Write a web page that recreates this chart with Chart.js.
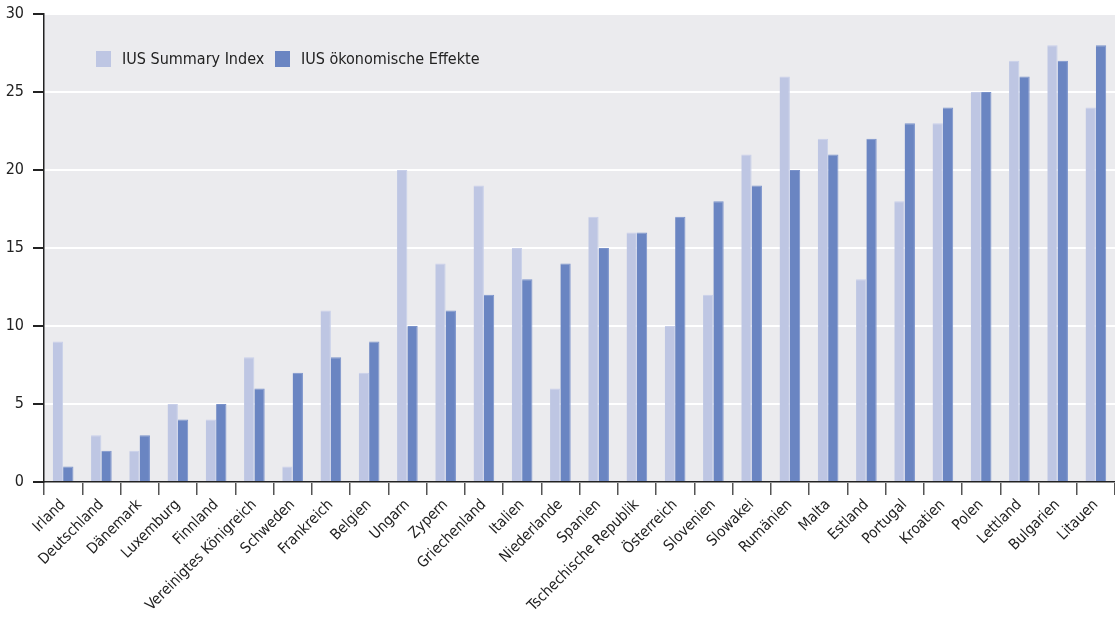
<!DOCTYPE html>
<html>
<head>
<meta charset="utf-8">
<script src="https://cdn.jsdelivr.net/npm/chart.js@4"></script>
<style>
  html, body { margin: 0; padding: 0; background: #fff; }
  #wrap { width: 1115px; height: 617px; }
</style>
</head>
<body>
<div id="wrap"><canvas id="chartIUS"></canvas></div>
<script>
const laender = ['Irland', 'Deutschland', 'Dänemark', 'Luxemburg', 'Finnland', 'Vereinigtes Königreich', 'Schweden', 'Frankreich', 'Belgien', 'Ungarn', 'Zypern', 'Griechenland', 'Italien', 'Niederlande', 'Spanien', 'Tschechische Republik', 'Österreich', 'Slovenien', 'Slowakei', 'Rumänien', 'Malta', 'Estland', 'Portugal', 'Kroatien', 'Polen', 'Lettland', 'Bulgarien', 'Litauen'];
const summaryIndex = [9, 3, 2, 5, 4, 8, 1, 11, 7, 20, 14, 19, 15, 6, 17, 16, 10, 12, 21, 26, 22, 13, 18, 23, 25, 27, 28, 24];
const oekoEffekte = [1, 2, 3, 4, 5, 6, 7, 8, 9, 10, 11, 12, 13, 14, 15, 16, 17, 18, 19, 20, 21, 22, 23, 24, 25, 26, 27, 28];
const yTicks = [0, 5, 10, 15, 20, 25, 30];

const schrift = "'Liberation Sans Narrow', 'DejaVu Sans Condensed', sans-serif";

// grauer Hintergrund der Zeichenfläche
const hintergrund = {
  id: 'hintergrund',
  beforeDraw(chart) {
    const { ctx, chartArea: a } = chart;
    ctx.save();
    ctx.fillStyle = '#ebebee';
    ctx.fillRect(a.left, a.top, a.right - a.left, a.bottom - a.top);
    ctx.restore();
  }
};

// Legende innerhalb der Zeichenfläche
const innenLegende = {
  id: 'innenLegende',
  afterDatasetsDraw(chart) {
    const { ctx, chartArea: a } = chart;
    const xs = [a.left + 52, a.left + 231];
    ctx.save();
    ctx.font = '16px ' + schrift;
    ctx.textBaseline = 'middle';
    chart.data.datasets.forEach((ds, i) => {
      ctx.fillStyle = ds.backgroundColor;
      ctx.fillRect(xs[i], a.top + 37, 15, 16);
      ctx.fillStyle = '#222';
      ctx.fillText(ds.label, xs[i] + 26, a.top + 46);
    });
    ctx.restore();
  }
};

new Chart(document.getElementById('chartIUS'), {
  type: 'bar',
  data: {
    labels: laender,
    datasets: [{
      label: 'IUS Summary Index',
      data: summaryIndex,
      backgroundColor: '#bec6e3',
      borderColor: '#c9d0ea',
      borderWidth: { top: 1, left: 0, right: 1, bottom: 0 },
      categoryPercentage: 0.54,
      barPercentage: 1
    }, {
      label: 'IUS ökonomische Effekte',
      data: oekoEffekte,
      backgroundColor: '#6a85c2',
      borderColor: '#7b93cb',
      borderWidth: { top: 1, left: 0, right: 1, bottom: 0 },
      categoryPercentage: 0.54,
      barPercentage: 1
    }]
  },
  options: {
    responsive: true,
    maintainAspectRatio: false,
    animation: false,
    layout: { padding: { top: 14, left: 0, right: 0, bottom: 0 } },
    plugins: {
      legend: { display: false },
      tooltip: { enabled: false }
    },
    scales: {
      x: {
        afterFit(scale) { scale.height = 135; },
        grid: {
          offset: true,
          drawOnChartArea: false,
          drawTicks: true,
          tickLength: 13,
          tickColor: '#555',
          lineWidth: 1.5
        },
        border: { color: '#222', width: 1.5 },
        ticks: {
          autoSkip: false,
          minRotation: 45,
          maxRotation: 45,
          padding: 1,
          color: '#222',
          font: { family: schrift, size: 15 }
        }
      },
      y: {
        min: 0,
        max: 30,
        afterFit(scale) {
          scale.width = 44;
          scale.paddingTop = 0;
        },
        afterBuildTicks(scale) {
          scale.ticks = yTicks.map(v => ({ value: v }));
        },
        grid: {
          color: '#ffffff',
          lineWidth: 2,
          tickLength: 11,
          tickColor: '#222',
          drawTicks: true
        },
        border: { color: '#222', width: 1.5 },
        ticks: {
          padding: 9,
          color: '#222',
          font: { family: schrift, size: 16 }
        }
      }
    }
  },
  plugins: [hintergrund, innenLegende]
});
</script>
</body>
</html>
